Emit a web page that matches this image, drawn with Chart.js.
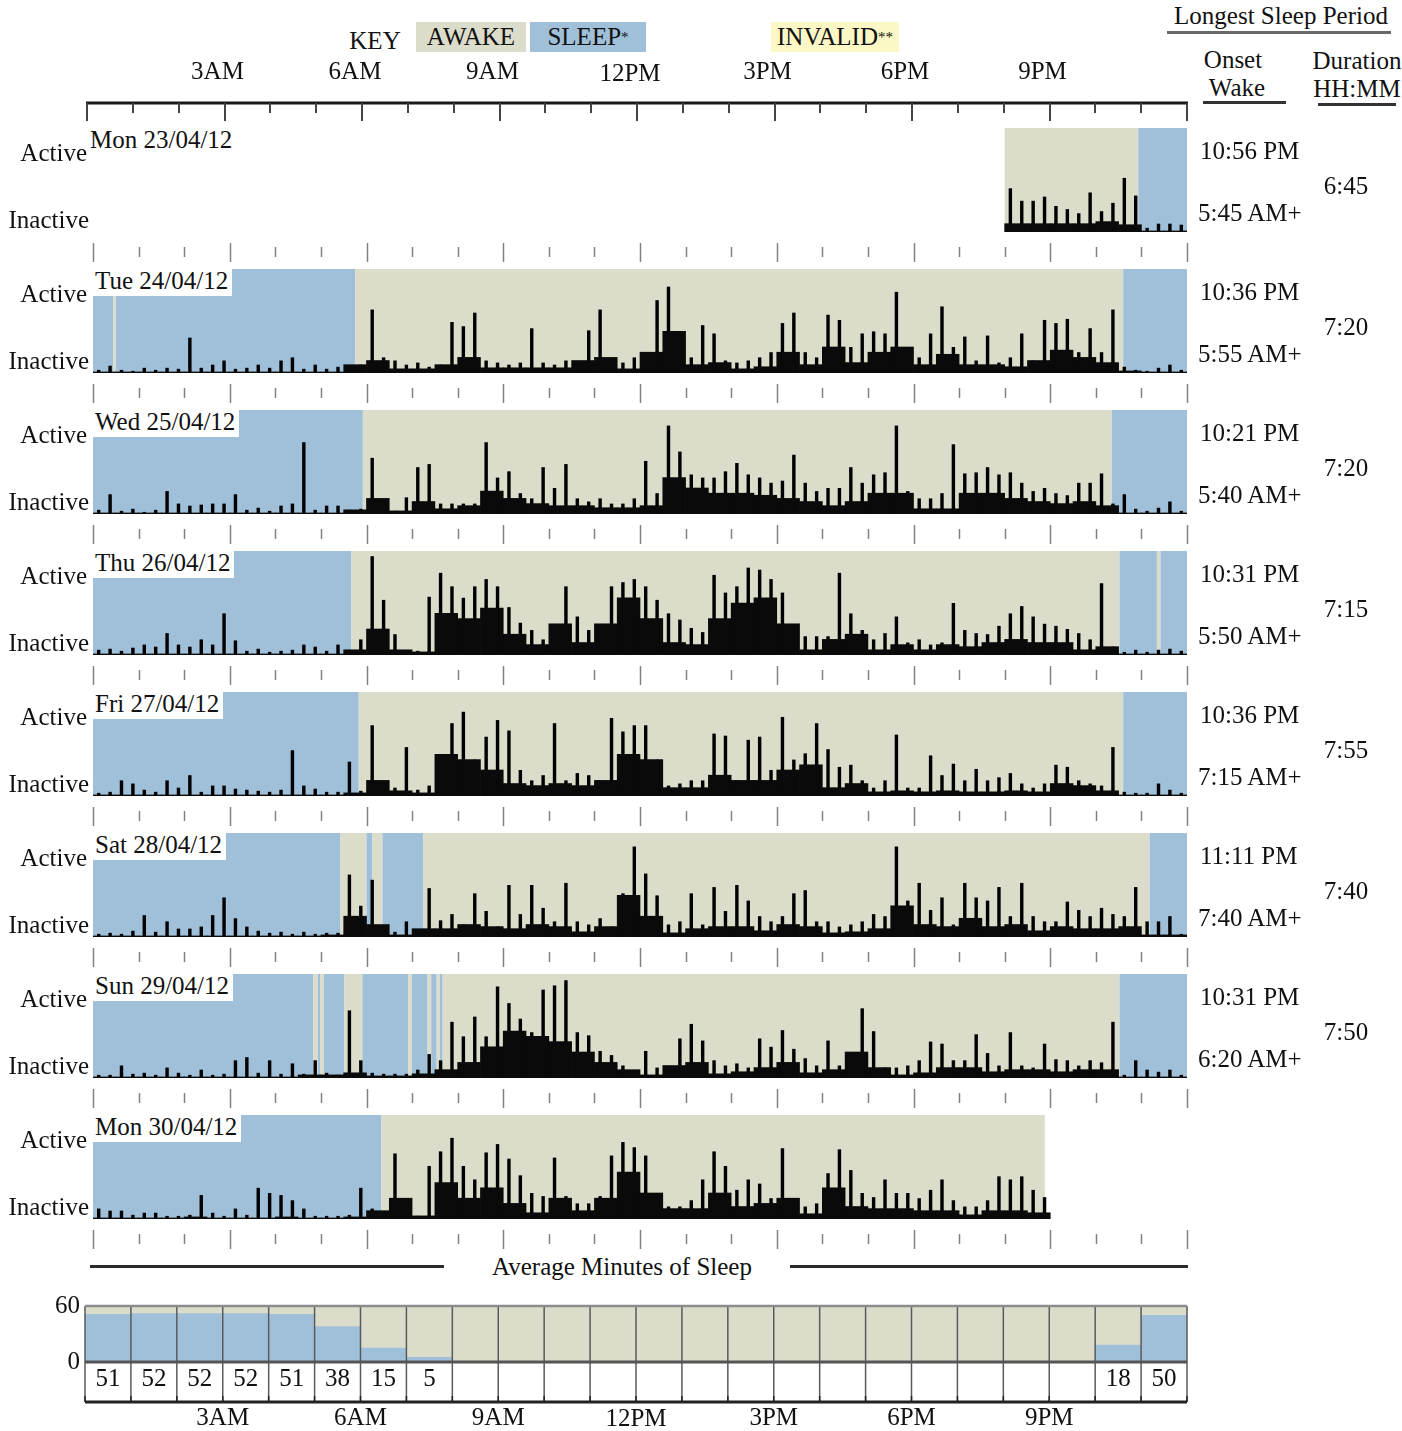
<!DOCTYPE html>
<html>
<head>
<meta charset="utf-8">
<title>Actogram</title>
<script src="https://cdn.jsdelivr.net/npm/chart.js@4.4.0/dist/chart.umd.min.js"></script>
<style>
  body { margin: 0; width: 1402px; height: 1431px; position: relative; overflow: hidden; background: #fff;
         font-family: "Liberation Serif", "Times New Roman", serif; color: #111; }
  .t { position: absolute; white-space: nowrap; font-size: 25px; line-height: 1; }
  .box { position: absolute; display: flex; align-items: center; justify-content: center; font-size: 25px; }
  .rule { position: absolute; height: 3px; }
  .date { position: absolute; background: #fff; font-size: 25px; line-height: 1; padding: 1px 4px 3px 2px; white-space: nowrap; }
  canvas { position: absolute; left: 0; }
</style>
</head>
<body>
<script>
// ---- data ----
const dayNames = ['Mon 23/04/12', 'Tue 24/04/12', 'Wed 25/04/12', 'Thu 26/04/12',
                  'Fri 27/04/12', 'Sat 28/04/12', 'Sun 29/04/12', 'Mon 30/04/12'];
const onsetTimes = ['10:56 PM', '10:36 PM', '10:21 PM', '10:31 PM', '10:36 PM', '11:11 PM', '10:31 PM', null];
const wakeTimes = ['5:45 AM+', '5:55 AM+', '5:40 AM+', '5:50 AM+', '7:15 AM+', '7:40 AM+', '6:20 AM+', null];
const durations = ['6:45', '7:20', '7:20', '7:15', '7:55', '7:40', '7:50', null];

// hour the recording of each day starts at
const dayStart = [20, 0, 0, 0, 0, 0, 0, 0];

// sleep / awake periods, [from hour, to hour, state]
const mon23Bands = [[20.0, 22.93, 'A'], [22.93, 24, 'S']];
const tueBands = [[0, 0.44, 'S'], [0.44, 0.5, 'A'], [0.5, 5.75, 'S'], [5.75, 22.6, 'A'], [22.6, 24, 'S']];
const wedBands = [[0, 5.92, 'S'], [5.92, 22.35, 'A'], [22.35, 24, 'S']];
const thuBands = [[0, 5.67, 'S'], [5.67, 22.52, 'A'], [22.52, 23.34, 'S'], [23.34, 23.42, 'A'], [23.42, 24, 'S']];
const friBands = [[0, 5.83, 'S'], [5.83, 22.6, 'A'], [22.6, 24, 'S']];
const satBands = [[0, 5.43, 'S'], [5.43, 6.0, 'A'], [6.0, 6.13, 'S'], [6.13, 6.35, 'A'], [6.35, 7.25, 'S'],
                  [7.25, 23.18, 'A'], [23.18, 24, 'S']];
const sunBands = [[0, 4.83, 'S'], [4.83, 4.93, 'A'], [4.93, 4.98, 'S'], [4.98, 5.06, 'A'], [5.06, 5.51, 'S'],
                  [5.51, 5.91, 'A'], [5.91, 6.91, 'S'], [6.91, 6.99, 'A'], [6.99, 7.34, 'S'], [7.34, 7.42, 'A'],
                  [7.42, 7.54, 'S'], [7.54, 7.61, 'A'], [7.61, 7.67, 'S'], [7.67, 22.52, 'A'], [22.52, 24, 'S']];
const mon30Bands = [[0, 6.33, 'S'], [6.33, 20.88, 'A']];

// activity peaks, 15-minute bins, % of the row height
const mon23Peak = [42, 30, 30, 34, 25, 22, 18, 38, 20, 28, 52, 35, 4, 8, 8, 7];
const tuePeak = [3, 7, 3, 2, 5, 3, 5, 4, 34, 5, 8, 12, 4, 5, 8, 5, 12, 15, 4, 8, 4, 6, 5, 8,
                 61, 15, 12, 8, 10, 6, 8, 49, 45, 58, 12, 10, 8, 10, 43, 10, 8, 12, 10, 41, 61, 12, 10, 15,
                 20, 70, 83, 30, 15, 46, 38, 12, 10, 12, 15, 20, 48, 58, 20, 15, 56, 51, 25, 38, 40, 38, 78, 20,
                 15, 38, 64, 25, 35, 12, 36, 10, 15, 38, 12, 51, 48, 52, 20, 43, 20, 61, 6, 3, 2, 5, 8, 3];
const wedPeak = [4, 19, 3, 5, 2, 4, 22, 10, 8, 9, 10, 10, 19, 4, 6, 3, 8, 10, 69, 4, 8, 8, 4, 5,
                 54, 8, 3, 16, 45, 48, 10, 10, 10, 10, 69, 35, 41, 20, 15, 45, 25, 48, 15, 12, 15, 10, 10, 15,
                 51, 20, 85, 60, 38, 35, 35, 41, 49, 38, 35, 30, 32, 57, 30, 22, 25, 25, 45, 30, 38, 40, 85, 22,
                 15, 15, 20, 67, 39, 40, 45, 38, 40, 30, 22, 25, 20, 18, 30, 30, 39, 10, 19, 5, 3, 6, 12, 3];
const thuPeak = [5, 6, 4, 7, 10, 8, 21, 10, 8, 15, 10, 40, 14, 4, 6, 3, 4, 5, 10, 8, 4, 10, 5, 15,
                 95, 53, 20, 3, 4, 56, 79, 66, 55, 66, 73, 66, 46, 31, 24, 15, 18, 66, 37, 24, 22, 66, 70, 73,
                 66, 53, 40, 34, 26, 22, 77, 60, 66, 84, 82, 73, 60, 24, 18, 18, 18, 79, 40, 24, 15, 21, 37, 12,
                 15, 10, 12, 50, 24, 21, 20, 28, 40, 47, 37, 30, 28, 25, 21, 15, 69, 8, 3, 5, 3, 5, 6, 4];
const friPeak = [3, 4, 15, 12, 6, 4, 15, 8, 20, 4, 10, 10, 7, 6, 5, 4, 6, 44, 10, 7, 4, 4, 33, 5,
                 68, 10, 8, 47, 6, 10, 38, 70, 81, 35, 57, 73, 63, 25, 15, 20, 70, 15, 22, 20, 15, 75, 62, 68,
                 68, 35, 10, 12, 15, 15, 60, 58, 15, 54, 57, 25, 76, 35, 41, 70, 45, 28, 30, 15, 8, 15, 59, 8,
                 8, 39, 20, 31, 15, 26, 15, 18, 22, 12, 8, 12, 30, 28, 15, 12, 10, 47, 4, 3, 3, 12, 6, 3];
const satPeak = [3, 4, 3, 6, 21, 5, 15, 8, 8, 10, 21, 38, 18, 10, 6, 4, 5, 3, 5, 3, 4, 4, 60, 30,
                 55, 10, 5, 15, 4, 47, 16, 22, 12, 42, 25, 10, 50, 22, 50, 28, 15, 52, 15, 12, 18, 10, 42, 87,
                 61, 40, 12, 15, 42, 12, 48, 25, 50, 35, 20, 15, 20, 42, 45, 15, 15, 10, 12, 15, 22, 20, 87, 35,
                 52, 26, 38, 12, 52, 38, 35, 48, 20, 52, 20, 15, 15, 34, 26, 20, 28, 22, 20, 48, 15, 15, 20, 3];
const sunPeak = [3, 3, 12, 4, 5, 3, 10, 5, 3, 8, 3, 4, 17, 20, 5, 17, 4, 14, 4, 17, 5, 3, 65, 17,
                 5, 4, 4, 4, 8, 23, 17, 54, 40, 59, 40, 88, 72, 57, 44, 85, 89, 94, 44, 41, 26, 22, 12, 3,
                 26, 10, 10, 38, 52, 36, 17, 12, 14, 10, 38, 30, 46, 28, 19, 12, 36, 12, 10, 67, 45, 10, 10, 12,
                 17, 35, 33, 17, 17, 42, 24, 12, 44, 12, 10, 33, 18, 17, 12, 17, 15, 54, 3, 17, 8, 6, 8, 3];
const mon30Peak = [10, 8, 8, 4, 6, 6, 3, 3, 4, 23, 6, 3, 10, 4, 30, 25, 23, 18, 10, 3, 3, 3, 4, 30,
                   10, 5, 63, 3, 3, 51, 65, 78, 51, 38, 64, 72, 58, 42, 25, 22, 59, 22, 15, 15, 22, 61, 74, 69,
                   61, 18, 12, 12, 18, 38, 65, 51, 28, 38, 34, 20, 68, 12, 12, 15, 44, 67, 47, 25, 21, 38, 25, 25,
                   20, 28, 38, 18, 12, 12, 18, 41, 38, 41, 28, 21];

// dense activity level, 30-minute bins, % of the row height
const mon23Body = [8, 8, 8, 8, 10, 7, 1, 1];
const tueBody = [1, 1, 1, 1, 1, 1, 1, 1, 1, 1, 1, 8, 12, 4, 4, 8, 15, 5, 5, 5, 5, 12, 15, 4,
                 20, 40, 8, 10, 4, 6, 20, 8, 25, 10, 20, 25, 8, 18, 8, 8, 6, 12, 22, 15, 10, 2, 1, 1];
const wedBody = [1, 1, 1, 1, 1, 1, 1, 1, 1, 1, 1, 4, 15, 3, 12, 5, 8, 22, 15, 10, 8, 8, 6, 6,
                 8, 35, 25, 20, 20, 18, 15, 12, 8, 12, 20, 20, 5, 5, 20, 20, 15, 12, 10, 12, 8, 1, 1, 1];
const thuBody = [1, 1, 1, 1, 1, 1, 1, 1, 1, 1, 1, 5, 25, 5, 3, 40, 35, 45, 20, 10, 30, 12, 30, 55,
                 35, 12, 10, 35, 50, 55, 30, 5, 15, 20, 5, 10, 5, 10, 8, 12, 15, 12, 12, 5, 8, 1, 1, 1];
const friBody = [1, 1, 1, 1, 1, 1, 1, 1, 1, 1, 1, 3, 15, 5, 3, 40, 35, 25, 12, 10, 12, 10, 15, 40,
                 35, 8, 8, 20, 15, 15, 25, 30, 8, 12, 4, 5, 4, 5, 4, 4, 5, 4, 12, 10, 5, 1, 1, 1];
const satBody = [1, 1, 1, 1, 1, 1, 1, 1, 1, 1, 2, 20, 12, 2, 8, 8, 12, 10, 8, 12, 10, 5, 10, 40,
                 20, 4, 8, 10, 10, 6, 12, 10, 4, 5, 8, 30, 12, 10, 18, 10, 12, 6, 10, 8, 8, 10, 2, 2];
const sunBody = [1, 1, 1, 1, 1, 1, 1, 1, 1, 3, 3, 5, 2, 2, 4, 8, 15, 30, 45, 40, 35, 25, 15, 8,
                 3, 12, 15, 4, 6, 10, 15, 5, 8, 25, 10, 3, 5, 10, 10, 6, 8, 8, 6, 8, 8, 1, 1, 1];
const mon30Body = [1, 1, 1, 1, 2, 1, 1, 1, 2, 1, 1, 2, 8, 20, 3, 35, 20, 30, 15, 6, 20, 8, 20, 45,
                   25, 10, 10, 25, 12, 15, 20, 5, 30, 12, 10, 10, 8, 8, 4, 8, 8, 6];

// average minutes of sleep per clock hour
const sleepMinutes = [51, 52, 52, 52, 51, 38, 15, 5, 0, 0, 0, 0, 0, 0, 0, 0, 0, 0, 0, 0, 0, 0, 18, 50];

const axisHours = [3, 6, 9, 12, 15, 18, 21];
const axisLabels = ['3AM', '6AM', '9AM', '12PM', '3PM', '6PM', '9PM'];

// ---- look ----
const AWAKE = '#dcdccb';
const SLEEP = '#a0c0da';
const INVALID = '#fbf8c6';
const FONT = '25px "Liberation Serif", "Times New Roman", serif';
const ROW_TOP = 128;
const ROW_STEP = 141;
const ROW_H = 104;

const bandColors = { A: AWAKE, S: SLEEP };

function put(html, x, y, align) {
  const d = document.createElement('div');
  d.className = 't';
  d.innerHTML = html;
  d.style.left = x + 'px';
  d.style.top = y + 'px';
  const tx = align === 'right' ? '-100%' : align === 'center' ? '-50%' : '0';
  d.style.transform = 'translate(' + tx + ',-50%)';
  document.body.appendChild(d);
  return d;
}

function rule(x0, x1, y, color) {
  const d = document.createElement('div');
  d.className = 'rule';
  d.style.left = x0 + 'px';
  d.style.width = (x1 - x0) + 'px';
  d.style.top = (y - 1) + 'px';
  d.style.background = color;
  document.body.appendChild(d);
}

function keyBox(html, x0, x1, color) {
  const d = document.createElement('div');
  d.className = 'box';
  d.innerHTML = html;
  d.style.left = x0 + 'px';
  d.style.width = (x1 - x0) + 'px';
  d.style.top = '22px';
  d.style.height = '30px';
  d.style.background = color;
  document.body.appendChild(d);
}

function addCanvas(top, height) {
  const c = document.createElement('canvas');
  c.width = 1402;
  c.height = height;
  c.style.top = top + 'px';
  document.body.appendChild(c);
  return c;
}

// ---- plugins ----
const bandsPlugin = {
  id: 'bands',
  beforeDatasetsDraw(chart, args, opts) {
    const { ctx, chartArea, scales: { x } } = chart;
    ctx.save();
    (opts.list || []).forEach(([from, to, state]) => {
      const x0 = x.getPixelForValue(from);
      const x1 = x.getPixelForValue(to);
      ctx.fillStyle = bandColors[state];
      ctx.fillRect(x0, chartArea.top, x1 - x0, chartArea.bottom - chartArea.top);
    });
    ctx.restore();
  }
};

// hour ticks hanging under each day row
const rowTicksPlugin = {
  id: 'rowTicks',
  afterDraw(chart) {
    const { ctx, chartArea, scales: { x } } = chart;
    ctx.save();
    ctx.strokeStyle = '#808080';
    ctx.lineWidth = 1.5;
    for (let h = 0; h <= 24; h++) {
      const px = Math.round(x.getPixelForValue(h)) + 0.5;
      const long = h % 3 === 0;
      ctx.beginPath();
      ctx.moveTo(px, chartArea.bottom + (long ? 11 : 15));
      ctx.lineTo(px, chartArea.bottom + (long ? 30 : 25));
      ctx.stroke();
    }
    ctx.restore();
  }
};

const topAxisPlugin = {
  id: 'topAxis',
  afterDraw(chart) {
    const { ctx, chartArea, scales: { x } } = chart;
    const y0 = chartArea.top;
    ctx.save();
    ctx.strokeStyle = '#1a1a1a';
    ctx.lineWidth = 3;
    ctx.beginPath();
    ctx.moveTo(x.getPixelForValue(0) - 1, y0);
    ctx.lineTo(x.getPixelForValue(24) + 1, y0);
    ctx.stroke();
    ctx.strokeStyle = '#444';
    ctx.lineWidth = 2;
    for (let h = 0; h <= 24; h++) {
      const px = Math.round(x.getPixelForValue(h));
      ctx.beginPath();
      ctx.moveTo(px, y0);
      ctx.lineTo(px, y0 + (h % 3 === 0 ? 18 : 10));
      ctx.stroke();
    }
    ctx.fillStyle = '#111';
    ctx.font = FONT;
    ctx.textAlign = 'center';
    ctx.textBaseline = 'middle';
    axisHours.forEach((h, i) => {
      ctx.fillText(axisLabels[i], x.getPixelForValue(h) - 7, y0 - 31 + (h === 12 ? 2 : 0));
    });
    ctx.restore();
  }
};

const sleepGridPlugin = {
  id: 'sleepGrid',
  beforeDatasetsDraw(chart) {
    const { ctx, chartArea: a } = chart;
    ctx.save();
    ctx.fillStyle = AWAKE;
    ctx.fillRect(a.left, a.top, a.right - a.left, a.bottom - a.top);
    ctx.restore();
  },
  afterDatasetsDraw(chart) {
    const { ctx, chartArea: a, scales: { x, y } } = chart;
    const n = chart.data.labels.length;
    const colW = (a.right - a.left) / n;
    const edge = i => x.getPixelForValue(i) - colW / 2;
    const axisY = a.bottom + 40;
    ctx.save();
    const line = (x0, y0, x1, y1) => { ctx.beginPath(); ctx.moveTo(x0, y0); ctx.lineTo(x1, y1); ctx.stroke(); };
    ctx.strokeStyle = '#5a5a5a';
    ctx.lineWidth = 1.5;
    for (let i = 0; i <= n; i++) line(edge(i), a.top, edge(i), axisY);
    ctx.strokeStyle = '#8c8c8c';
    ctx.lineWidth = 2.5;
    line(a.left, y.getPixelForValue(60), a.right, y.getPixelForValue(60));
    ctx.strokeStyle = '#555';
    ctx.lineWidth = 3;
    line(a.left, y.getPixelForValue(0), a.right, y.getPixelForValue(0));
    ctx.strokeStyle = '#222';
    line(edge(0), axisY, edge(n), axisY);
    ctx.lineWidth = 1.5;
    for (let i = 0; i <= n; i++) line(edge(i), axisY - 6, edge(i), axisY);

    ctx.fillStyle = '#111';
    ctx.font = FONT;
    ctx.textBaseline = 'middle';
    ctx.textAlign = 'center';
    chart.data.datasets[0].data.forEach((v, i) => {
      if (v > 0) ctx.fillText(String(v), x.getPixelForValue(i), a.bottom + 17);
    });
    axisHours.forEach((h, i) => {
      ctx.fillText(axisLabels[i], edge(h), axisY + 16 + (h === 12 ? 1 : 0));
    });
    ctx.textAlign = 'right';
    ctx.fillText('60', a.left - 5, y.getPixelForValue(60));
    ctx.fillText('0', a.left - 5, y.getPixelForValue(0));
    ctx.restore();
  }
};

// ---- header ----
put('KEY', 375, 40, 'center');
keyBox('AWAKE', 416, 526, AWAKE);
keyBox('SLEEP<sup style="font-size:15px">*</sup>', 530, 646, SLEEP);
keyBox('INVALID<sup style="font-size:15px">**</sup>', 771, 899, INVALID);

put('Longest Sleep Period', 1281, 15, 'center');
rule(1167, 1391, 32, '#6a6a6a');
put('Onset', 1233, 59, 'center');
put('Wake', 1237, 87, 'center');
rule(1203, 1286, 102, '#333');
put('Duration', 1357, 60, 'center');
put('HH:MM', 1357, 88, 'center');
rule(1318, 1396, 104, '#333');

const topAxis = new Chart(addCanvas(0, 128), {
  type: 'line',
  data: { datasets: [] },
  options: {
    responsive: false,
    animation: false,
    events: [],
    layout: { padding: { left: 87, right: 215, top: 103, bottom: 5 } },
    scales: {
      x: { type: 'linear', min: 0, max: 24, offset: false, display: false },
      y: { min: 0, max: 1, display: false }
    },
    plugins: { legend: { display: false }, tooltip: { enabled: false } }
  },
  plugins: [topAxisPlugin]
});

// ---- day rows ----
const days = [
  { bands: mon23Bands, peak: mon23Peak, body: mon23Body },
  { bands: tueBands, peak: tuePeak, body: tueBody },
  { bands: wedBands, peak: wedPeak, body: wedBody },
  { bands: thuBands, peak: thuPeak, body: thuBody },
  { bands: friBands, peak: friPeak, body: friBody },
  { bands: satBands, peak: satPeak, body: satBody },
  { bands: sunBands, peak: sunPeak, body: sunBody },
  { bands: mon30Bands, peak: mon30Peak, body: mon30Body }
];

days.forEach((day, r) => {
  const top = ROW_TOP + r * ROW_STEP;
  const start = dayStart[r];
  new Chart(addCanvas(top - 4, ROW_H + 36), {
    type: 'bar',
    data: {
      datasets: [
        {
          xAxisID: 'xb',
          data: day.body.map((v, j) => ({ x: start + j * 0.5 + 0.25, y: v })),
          backgroundColor: '#0a0a0a',
          borderWidth: 0,
          barPercentage: 1,
          categoryPercentage: 1,
          grouped: false
        },
        {
          xAxisID: 'x',
          data: day.peak.map((v, k) => ({ x: start + k * 0.25 + 0.125, y: v })),
          backgroundColor: '#000',
          borderWidth: 0,
          barPercentage: 0.3,
          categoryPercentage: 1,
          grouped: false
        }
      ]
    },
    options: {
      responsive: false,
      animation: false,
      events: [],
      layout: { padding: { left: 93, right: 215, top: 4, bottom: 32 } },
      scales: {
        x: { type: 'linear', min: 0, max: 24, offset: false, display: false },
        xb: { type: 'linear', min: 0, max: 24, offset: false, display: false },
        y: { min: 0, max: 100, display: false }
      },
      plugins: {
        legend: { display: false },
        tooltip: { enabled: false },
        bands: { list: day.bands }
      }
    },
    plugins: [bandsPlugin, rowTicksPlugin]
  });

  const lab = document.createElement('div');
  lab.className = 'date';
  lab.textContent = dayNames[r];
  lab.style.left = (r === 0 ? 88 : 93) + 'px';
  lab.style.top = (top - 2) + 'px';
  document.body.appendChild(lab);

  put('Active', 87, top + 24, 'right');
  put('Inactive', 89, top + 91, 'right');
  if (onsetTimes[r]) put(onsetTimes[r], 1200, top + 22, 'left');
  if (wakeTimes[r]) put(wakeTimes[r], 1198, top + 84, 'left');
  if (durations[r]) put(durations[r], 1346, top + 57, 'center');
});

// ---- average minutes of sleep ----
put('Average Minutes of Sleep', 622, 1266, 'center');
rule(90, 444, 1266, '#2a2a2a');
rule(790, 1188, 1266, '#2a2a2a');

new Chart(addCanvas(1250, 181), {
  type: 'bar',
  data: {
    labels: sleepMinutes.map((v, i) => String(i)),
    datasets: [{
      data: sleepMinutes,
      backgroundColor: SLEEP,
      borderWidth: 0,
      barPercentage: 1,
      categoryPercentage: 1
    }]
  },
  options: {
    responsive: false,
    animation: false,
    events: [],
    layout: { padding: { left: 85, right: 215, top: 56, bottom: 69 } },
    scales: {
      x: { display: false },
      y: { min: 0, max: 60, display: false }
    },
    plugins: { legend: { display: false }, tooltip: { enabled: false } }
  },
  plugins: [sleepGridPlugin]
});
</script>
</body>
</html>
